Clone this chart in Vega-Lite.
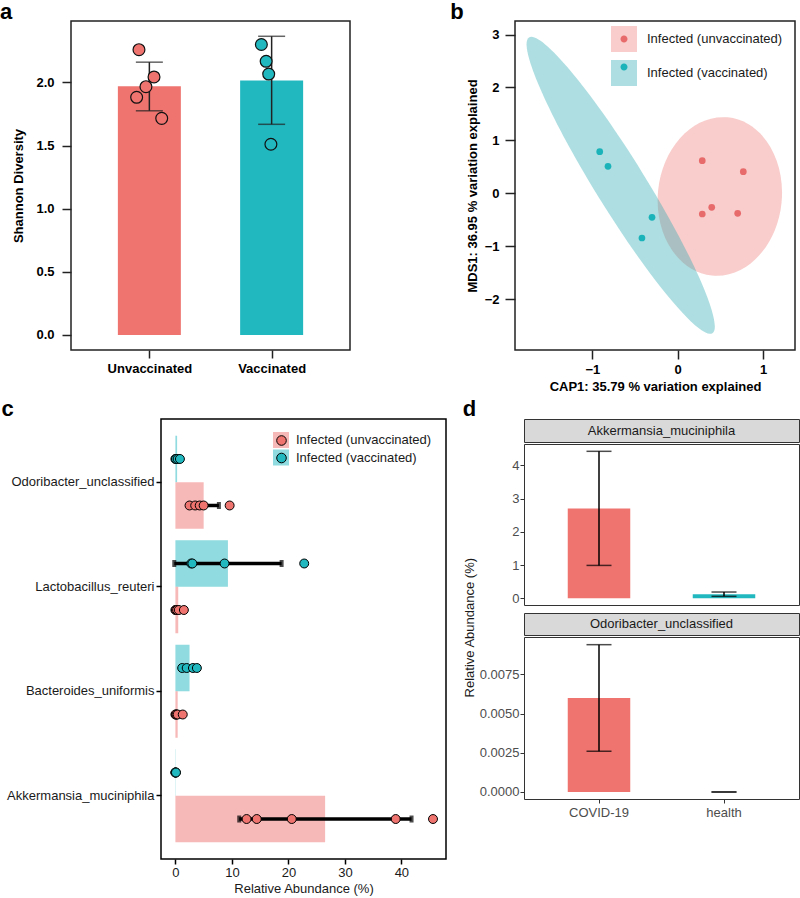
{
 "$schema": "https://vega.github.io/schema/vega-lite/v6.json",
 "padding": {"left": -3, "top": 0, "right": 0, "bottom": 0},
 "background": "white",
 "config": {
   "font": "Liberation Sans",
   "view": {"stroke": null},
   "axis": {"grid": false, "domain": false},
   "title": {"fontSize": 22, "fontWeight": "bold", "anchor": "start", "frame": "bounds", "color": "black", "baseline": "alphabetic"}
 },
 "datasets": {
   "a_bars": [
     {"group": "Unvaccinated", "x": 1, "mean": 1.97, "lo": 1.775, "hi": 2.16},
     {"group": "Vaccinated", "x": 2, "mean": 2.015, "lo": 1.668, "hi": 2.365}
   ],
   "a_pts": [
     {"group": "Unvaccinated", "x": 0.915, "value": 2.259},
     {"group": "Unvaccinated", "x": 1.038, "value": 2.043},
     {"group": "Unvaccinated", "x": 0.972, "value": 1.966},
     {"group": "Unvaccinated", "x": 0.896, "value": 1.882},
     {"group": "Unvaccinated", "x": 1.101, "value": 1.715},
     {"group": "Vaccinated", "x": 1.916, "value": 2.30},
     {"group": "Vaccinated", "x": 1.955, "value": 2.167},
     {"group": "Vaccinated", "x": 1.976, "value": 2.066},
     {"group": "Vaccinated", "x": 1.994, "value": 1.51}
   ],
   "b_ell": [
     {"group": "Infected (unvaccinated)", "x": 0.494, "y": -0.06},
     {"group": "Infected (vaccinated)", "x": -0.668, "y": 0.151}
   ],
   "b_pts": [
     {"group": "Infected (unvaccinated)", "x": 0.288, "y": 0.616},
     {"group": "Infected (unvaccinated)", "x": 0.769, "y": 0.408},
     {"group": "Infected (unvaccinated)", "x": 0.399, "y": -0.265},
     {"group": "Infected (unvaccinated)", "x": 0.288, "y": -0.391},
     {"group": "Infected (unvaccinated)", "x": 0.703, "y": -0.378},
     {"group": "Infected (vaccinated)", "x": -0.914, "y": 0.786},
     {"group": "Infected (vaccinated)", "x": -0.817, "y": 0.51},
     {"group": "Infected (vaccinated)", "x": -0.301, "y": -0.454},
     {"group": "Infected (vaccinated)", "x": -0.419, "y": -0.845}
   ],
   "c_sum": [
     {"taxon": "Odoribacter_unclassified", "group": "Infected (vaccinated)", "mean": 0.3, "lo": 0.05, "hi": 0.55},
     {"taxon": "Odoribacter_unclassified", "group": "Infected (unvaccinated)", "mean": 5.0, "lo": 2.3, "hi": 7.7},
     {"taxon": "Lactobacillus_reuteri", "group": "Infected (vaccinated)", "mean": 9.3, "lo": -0.2, "hi": 18.8},
     {"taxon": "Lactobacillus_reuteri", "group": "Infected (unvaccinated)", "mean": 0.5, "lo": 0.1, "hi": 0.9},
     {"taxon": "Bacteroides_uniformis", "group": "Infected (vaccinated)", "mean": 2.5, "lo": 1.8, "hi": 3.2},
     {"taxon": "Bacteroides_uniformis", "group": "Infected (unvaccinated)", "mean": 0.4, "lo": 0.1, "hi": 0.7},
     {"taxon": "Akkermansia_muciniphila", "group": "Infected (vaccinated)", "mean": 0.05, "lo": 0.0, "hi": 0.1},
     {"taxon": "Akkermansia_muciniphila", "group": "Infected (unvaccinated)", "mean": 26.5, "lo": 11.3, "hi": 41.8}
   ],
   "c_pts": [
     {"taxon": "Odoribacter_unclassified", "group": "Infected (vaccinated)", "value": 0.0},
     {"taxon": "Odoribacter_unclassified", "group": "Infected (vaccinated)", "value": 0.1},
     {"taxon": "Odoribacter_unclassified", "group": "Infected (vaccinated)", "value": 0.4},
     {"taxon": "Odoribacter_unclassified", "group": "Infected (vaccinated)", "value": 0.8},
     {"taxon": "Odoribacter_unclassified", "group": "Infected (unvaccinated)", "value": 2.5},
     {"taxon": "Odoribacter_unclassified", "group": "Infected (unvaccinated)", "value": 3.5},
     {"taxon": "Odoribacter_unclassified", "group": "Infected (unvaccinated)", "value": 4.3},
     {"taxon": "Odoribacter_unclassified", "group": "Infected (unvaccinated)", "value": 5.0},
     {"taxon": "Odoribacter_unclassified", "group": "Infected (unvaccinated)", "value": 9.6},
     {"taxon": "Lactobacillus_reuteri", "group": "Infected (vaccinated)", "value": 2.8},
     {"taxon": "Lactobacillus_reuteri", "group": "Infected (vaccinated)", "value": 3.0},
     {"taxon": "Lactobacillus_reuteri", "group": "Infected (vaccinated)", "value": 8.7},
     {"taxon": "Lactobacillus_reuteri", "group": "Infected (vaccinated)", "value": 22.8},
     {"taxon": "Lactobacillus_reuteri", "group": "Infected (unvaccinated)", "value": 0.0},
     {"taxon": "Lactobacillus_reuteri", "group": "Infected (unvaccinated)", "value": 0.1},
     {"taxon": "Lactobacillus_reuteri", "group": "Infected (unvaccinated)", "value": 0.3},
     {"taxon": "Lactobacillus_reuteri", "group": "Infected (unvaccinated)", "value": 0.6},
     {"taxon": "Lactobacillus_reuteri", "group": "Infected (unvaccinated)", "value": 1.5},
     {"taxon": "Bacteroides_uniformis", "group": "Infected (vaccinated)", "value": 1.2},
     {"taxon": "Bacteroides_uniformis", "group": "Infected (vaccinated)", "value": 2.0},
     {"taxon": "Bacteroides_uniformis", "group": "Infected (vaccinated)", "value": 3.1},
     {"taxon": "Bacteroides_uniformis", "group": "Infected (vaccinated)", "value": 3.8},
     {"taxon": "Bacteroides_uniformis", "group": "Infected (unvaccinated)", "value": 0.0},
     {"taxon": "Bacteroides_uniformis", "group": "Infected (unvaccinated)", "value": 0.1},
     {"taxon": "Bacteroides_uniformis", "group": "Infected (unvaccinated)", "value": 0.2},
     {"taxon": "Bacteroides_uniformis", "group": "Infected (unvaccinated)", "value": 0.4},
     {"taxon": "Bacteroides_uniformis", "group": "Infected (unvaccinated)", "value": 1.3},
     {"taxon": "Akkermansia_muciniphila", "group": "Infected (vaccinated)", "value": 0.0},
     {"taxon": "Akkermansia_muciniphila", "group": "Infected (vaccinated)", "value": 0.0},
     {"taxon": "Akkermansia_muciniphila", "group": "Infected (vaccinated)", "value": 0.05},
     {"taxon": "Akkermansia_muciniphila", "group": "Infected (vaccinated)", "value": 0.1},
     {"taxon": "Akkermansia_muciniphila", "group": "Infected (unvaccinated)", "value": 12.6},
     {"taxon": "Akkermansia_muciniphila", "group": "Infected (unvaccinated)", "value": 14.4},
     {"taxon": "Akkermansia_muciniphila", "group": "Infected (unvaccinated)", "value": 20.6},
     {"taxon": "Akkermansia_muciniphila", "group": "Infected (unvaccinated)", "value": 39.0},
     {"taxon": "Akkermansia_muciniphila", "group": "Infected (unvaccinated)", "value": 45.6}
   ],
   "d1": [
     {"group": "COVID-19", "mean": 2.70, "lo": 0.99, "hi": 4.42},
     {"group": "health", "mean": 0.12, "lo": 0.06, "hi": 0.19}
   ],
   "d2": [
     {"group": "COVID-19", "mean": 0.0060, "lo": 0.0026, "hi": 0.0094},
     {"group": "health", "mean": 0.0, "lo": 0.0, "hi": 0.0}
   ]
 },
 "spacing": 3,
 "vconcat": [
  {
   "spacing": 1,
   "hconcat": [
    {"width": 1, "height": 1, "data": {"values": [{"v": 0}]}, "mark": {"type": "text", "text": ""}},
    {
     "spacing": 98,
     "hconcat": [
      {
       "title": {"text": "a", "dx": -13, "offset": -3},
       "width": 279, "height": 329,
       "view": {"stroke": "#222222", "strokeWidth": 1.5},
       "encoding": {
         "x": {"field": "x", "type": "quantitative", "scale": {"domain": [0.4, 2.6], "nice": false, "zero": false},
               "axis": {"values": [1, 2], "labelExpr": "datum.value == 1 ? 'Unvaccinated' : 'Vaccinated'", "title": null, "labelFontSize": 13, "labelFontWeight": "bold", "labelColor": "black", "tickColor": "#222222", "tickSize": 8, "tickWidth": 1.5, "labelPadding": 4}}
       },
       "layer": [
         {"data": {"name": "a_bars"}, "mark": {"type": "bar", "size": 63},
          "encoding": {
            "y": {"field": "mean", "type": "quantitative", "scale": {"domain": [-0.119, 2.486], "nice": false, "zero": false},
                  "axis": {"values": [0, 0.5, 1, 1.5, 2], "format": ".1f", "title": "Shannon Diversity", "titleFontSize": 13, "titleFontWeight": "bold", "titleColor": "black", "titlePadding": 10, "labelFontSize": 13, "labelFontWeight": "bold", "labelColor": "black", "tickColor": "#222222", "tickSize": 9, "tickWidth": 1.5, "labelPadding": 8}},
            "y2": {"datum": 0},
            "color": {"field": "group", "type": "nominal", "scale": {"domain": ["Unvaccinated", "Vaccinated"], "range": ["#EF7470", "#21B8C0"]}, "legend": null}
          }},
         {"data": {"name": "a_bars"}, "mark": {"type": "rule", "color": "#222222", "strokeWidth": 1.5},
          "encoding": {
            "y": {"field": "lo", "type": "quantitative", "scale": {"domain": [-0.119, 2.486], "nice": false, "zero": false}},
            "y2": {"field": "hi"}
          }},
         {"data": {"name": "a_bars"}, "transform": [{"fold": ["lo", "hi"]}],
          "mark": {"type": "tick", "orient": "horizontal", "size": 27, "thickness": 1.5, "color": "#222222"},
          "encoding": {
            "y": {"field": "value", "type": "quantitative", "scale": {"domain": [-0.119, 2.486], "nice": false, "zero": false}}
          }},
         {"data": {"name": "a_pts"}, "mark": {"type": "circle", "size": 140, "stroke": "#111111", "strokeWidth": 1.2, "opacity": 1},
          "encoding": {
            "y": {"field": "value", "type": "quantitative", "scale": {"domain": [-0.119, 2.486], "nice": false, "zero": false}},
            "color": {"field": "group", "type": "nominal", "scale": {"domain": ["Unvaccinated", "Vaccinated"], "range": ["#EF7470", "#21B8C0"]}, "legend": null}
          }}
       ]
      },
      {
       "title": {"text": "b", "dx": -16, "offset": -3},
       "width": 280, "height": 329,
       "view": {"stroke": "#222222", "strokeWidth": 1.5},
       "encoding": {
         "x": {"field": "x", "type": "quantitative", "scale": {"domain": [-1.907, 1.375], "nice": false, "zero": false},
               "axis": {"values": [-1, 0, 1], "labelExpr": "replace(datum.label, '-', '−')", "title": "CAP1:  35.79 % variation explained", "titleFontSize": 13, "titleFontWeight": "bold", "titleColor": "black", "titlePadding": 4, "labelFontSize": 13, "labelFontWeight": "bold", "labelColor": "black", "tickColor": "#222222", "tickSize": 9, "tickWidth": 1.5, "labelPadding": 4}},
         "y": {"field": "y", "type": "quantitative", "scale": {"domain": [-2.962, 3.257], "nice": false, "zero": false},
               "axis": {"values": [-2, -1, 0, 1, 2, 3], "labelExpr": "replace(datum.label, '-', '−')", "title": "MDS1:  36.95 % variation explained", "titleFontSize": 13, "titleFontWeight": "bold", "titleColor": "black", "titlePadding": 5, "labelFontSize": 13, "labelFontWeight": "bold", "labelColor": "black", "tickColor": "#222222", "tickSize": 10, "tickWidth": 1.5, "labelPadding": 6}}
       },
       "layer": [
         {"layer": [
           {"data": {"name": "b_ell"}, "transform": [{"filter": "datum.group == 'Infected (unvaccinated)'"}],
            "mark": {"type": "point", "shape": "M -1 0 A 1 0.78 0 1 1 1 0 A 1 0.78 0 1 1 -1 0 Z", "size": 25281, "angle": 95.7, "filled": true, "opacity": 0.38, "strokeWidth": 0},
            "encoding": {"fill": {"field": "group", "type": "nominal", "scale": {"domain": ["Infected (unvaccinated)", "Infected (vaccinated)"], "range": ["#EC7B76", "#2AA9B0"]},
               "legend": {"orient": "none", "legendX": 96, "legendY": 5, "title": null, "symbolType": "square", "symbolSize": 676, "symbolOpacity": 0.38, "symbolStrokeWidth": 0, "labelFontSize": 13, "labelColor": "#1a1a1a", "labelOffset": 10, "rowPadding": 8, "labelLimit": 300}}}},
           {"data": {"name": "b_ell"}, "transform": [{"filter": "datum.group == 'Infected (vaccinated)'"}],
            "mark": {"type": "point", "shape": "M -1 0 A 1 0.1437 0 1 1 1 0 A 1 0.1437 0 1 1 -1 0 Z", "size": 121104, "angle": 58.2, "filled": true, "opacity": 0.38, "strokeWidth": 0},
            "encoding": {"fill": {"field": "group", "type": "nominal", "scale": {"domain": ["Infected (unvaccinated)", "Infected (vaccinated)"], "range": ["#EC7B76", "#2AA9B0"]},
               "legend": {"orient": "none", "legendX": 96, "legendY": 5, "title": null, "symbolType": "square", "symbolSize": 676, "symbolOpacity": 0.38, "symbolStrokeWidth": 0, "labelFontSize": 13, "labelColor": "#1a1a1a", "labelOffset": 10, "rowPadding": 8, "labelLimit": 300}}}}
         ]},
         {"data": {"name": "b_pts"}, "mark": {"type": "circle", "size": 45, "opacity": 1},
          "encoding": {"fill": {"field": "group", "type": "nominal", "scale": {"domain": ["Infected (unvaccinated)", "Infected (vaccinated)"], "range": ["#E86B6C", "#1AB3BA"]},
             "legend": {"orient": "none", "legendX": 96, "legendY": 5, "title": null, "symbolType": "M -0.27 0 A 0.27 0.27 0 1 1 0.27 0 A 0.27 0.27 0 1 1 -0.27 0 Z", "symbolSize": 676, "symbolOpacity": 1, "symbolStrokeWidth": 0, "labelExpr": "''", "labelFontSize": 13, "labelOffset": 10, "rowPadding": 8}}}}
       ],
       "resolve": {"scale": {"fill": "independent"}, "legend": {"fill": "independent"}}
      }
     ]
    }
   ]
  },
  {
   "spacing": 2,
   "hconcat": [
    {"width": 1, "height": 1, "data": {"values": [{"v": 0}]}, "mark": {"type": "text", "text": ""}},
    {
     "spacing": 15,
     "hconcat": [
      {
       "title": {"text": "c", "dx": -5, "offset": -2},
       "width": 285, "height": 440,
       "view": {"stroke": "black", "strokeWidth": 1.5},
       "encoding": {
         "y": {"field": "taxon", "type": "nominal", "sort": ["Odoribacter_unclassified", "Lactobacillus_reuteri", "Bacteroides_uniformis", "Akkermansia_muciniphila"],
               "scale": {"domain": ["Odoribacter_unclassified", "Lactobacillus_reuteri", "Bacteroides_uniformis", "Akkermansia_muciniphila"], "paddingInner": 0.11, "paddingOuter": 0.16},
               "axis": {"title": null, "labelFontSize": 13, "labelColor": "#1a1a1a", "tickColor": "black", "tickSize": 5, "tickWidth": 1.5, "labelPadding": 2, "labelLimit": 300}},
         "yOffset": {"field": "group", "type": "nominal", "scale": {"domain": ["Infected (vaccinated)", "Infected (unvaccinated)"], "paddingInner": 0, "paddingOuter": 0}}
       },
       "layer": [
         {"data": {"name": "c_sum"}, "mark": {"type": "bar", "opacity": 0.5},
          "encoding": {
            "x": {"field": "mean", "type": "quantitative", "scale": {"domain": [-2.55, 47.9], "nice": false, "zero": false},
                  "axis": {"values": [0, 10, 20, 30, 40], "title": "Relative Abundance (%)", "titleFontSize": 13, "titleFontWeight": "normal", "titleColor": "#1a1a1a", "titlePadding": 3, "labelFontSize": 13, "labelColor": "#1a1a1a", "tickColor": "black", "tickSize": 5, "tickWidth": 1.5, "labelPadding": 2}},
            "x2": {"datum": 0},
            "fill": {"field": "group", "type": "nominal", "scale": {"domain": ["Infected (unvaccinated)", "Infected (vaccinated)"], "range": ["#EF7470", "#21B8C0"]},
               "legend": {"orient": "none", "legendX": 112, "legendY": 13, "title": null, "symbolType": "square", "symbolSize": 256, "symbolOpacity": 0.5, "symbolStrokeWidth": 0, "labelFontSize": 13, "labelColor": "#1a1a1a", "labelOffset": 7, "rowPadding": 1.5, "labelLimit": 300}}
          }},
         {"data": {"name": "c_sum"}, "mark": {"type": "rule", "color": "black", "strokeWidth": 3.5},
          "encoding": {
            "x": {"field": "lo", "type": "quantitative", "scale": {"domain": [-2.55, 47.9], "nice": false, "zero": false}},
            "x2": {"field": "hi"}
          }},
         {"data": {"name": "c_sum"}, "transform": [{"fold": ["lo", "hi"]}],
          "mark": {"type": "tick", "orient": "vertical", "size": 7, "thickness": 4, "color": "black"},
          "encoding": {
            "x": {"field": "value", "type": "quantitative", "scale": {"domain": [-2.55, 47.9], "nice": false, "zero": false}}
          }},
         {"data": {"name": "c_pts"}, "mark": {"type": "circle", "size": 80, "stroke": "black", "strokeWidth": 1, "opacity": 1},
          "encoding": {
            "x": {"field": "value", "type": "quantitative", "scale": {"domain": [-2.55, 47.9], "nice": false, "zero": false}},
            "fill": {"field": "group", "type": "nominal", "scale": {"domain": ["Infected (unvaccinated)", "Infected (vaccinated)"], "range": ["#EF7470", "#21B8C0"]},
               "legend": {"orient": "none", "legendX": 112, "legendY": 13, "title": null, "symbolType": "M -0.6 0 A 0.6 0.6 0 1 1 0.6 0 A 0.6 0.6 0 1 1 -0.6 0 Z", "symbolSize": 256, "symbolOpacity": 1, "symbolStrokeColor": "black", "symbolStrokeWidth": 1, "labelExpr": "''", "labelFontSize": 13, "labelOffset": 7, "rowPadding": 1.5}}
          }}
       ],
       "resolve": {"scale": {"fill": "independent"}, "legend": {"fill": "independent"}}
      },
      {
       "title": {"text": "d", "dx": -1, "offset": -2},
       "vconcat": [
        {
         "title": {"text": "Relative Abundance (%)", "orient": "left", "anchor": "middle", "frame": "bounds", "fontSize": 13, "fontWeight": "normal", "color": "#1a1a1a", "baseline": "bottom", "offset": -11, "dx": -8.7},
         "spacing": 0,
         "vconcat": [
           {"width": 275, "height": 23, "view": {"fill": "#d9d9d9", "stroke": "#333333", "strokeWidth": 1},
            "data": {"values": [{"label": "Akkermansia_muciniphila"}]},
            "mark": {"type": "text", "fontSize": 13, "color": "#1a1a1a"},
            "encoding": {"text": {"field": "label", "type": "nominal"}}},
           {"width": 275, "height": 161, "view": {"stroke": "#333333", "strokeWidth": 1},
            "data": {"name": "d1"},
            "encoding": {"x": {"field": "group", "type": "nominal", "scale": {"domain": ["COVID-19", "health"], "paddingInner": 0.5, "paddingOuter": 0.35},
                 "axis": {"labels": false, "ticks": true, "tickSize": 6, "tickOpacity": 0, "title": null}}},
            "layer": [
              {"mark": {"type": "bar"},
               "encoding": {
                 "y": {"field": "mean", "type": "quantitative", "scale": {"domain": [-0.2, 4.64], "nice": false, "zero": false},
                       "axis": {"values": [0, 1, 2, 3, 4], "title": null, "labelFontSize": 13, "labelColor": "#4d4d4d", "tickColor": "#333333", "tickSize": 4, "tickWidth": 1, "labelPadding": 1}},
                 "y2": {"datum": 0},
                 "color": {"field": "group", "type": "nominal", "scale": {"domain": ["COVID-19", "health"], "range": ["#EF7470", "#21B8C0"]}, "legend": null}
               }},
              {"mark": {"type": "rule", "color": "black", "strokeWidth": 1.5},
               "encoding": {
                 "y": {"field": "lo", "type": "quantitative", "scale": {"domain": [-0.2, 4.64], "nice": false, "zero": false}},
                 "y2": {"field": "hi"}
               }},
              {"transform": [{"fold": ["lo", "hi"]}],
               "mark": {"type": "tick", "orient": "horizontal", "size": 25, "thickness": 1.5, "color": "black"},
               "encoding": {
                 "y": {"field": "value", "type": "quantitative", "scale": {"domain": [-0.2, 4.64], "nice": false, "zero": false}}
               }}
            ]},
           {"width": 275, "height": 22, "view": {"fill": "#d9d9d9", "stroke": "#333333", "strokeWidth": 1},
            "data": {"values": [{"label": "Odoribacter_unclassified"}]},
            "mark": {"type": "text", "fontSize": 13, "color": "#1a1a1a"},
            "encoding": {"text": {"field": "label", "type": "nominal"}}},
           {"width": 275, "height": 162, "view": {"stroke": "#333333", "strokeWidth": 1},
            "data": {"name": "d2"},
            "encoding": {"x": {"field": "group", "type": "nominal", "scale": {"domain": ["COVID-19", "health"], "paddingInner": 0.5, "paddingOuter": 0.35},
                 "axis": {"title": null, "labelAngle": 0, "labelFontSize": 13, "labelColor": "#4d4d4d", "tickColor": "#333333", "tickSize": 4, "tickWidth": 1, "labelPadding": 3}}},
            "layer": [
              {"mark": {"type": "bar"},
               "encoding": {
                 "y": {"field": "mean", "type": "quantitative", "scale": {"domain": [-0.000447, 0.00989], "nice": false, "zero": false},
                       "axis": {"values": [0, 0.0025, 0.005, 0.0075], "format": ".4f", "title": null, "labelFontSize": 13, "labelColor": "#4d4d4d", "tickColor": "#333333", "tickSize": 4, "tickWidth": 1, "labelPadding": 1}},
                 "y2": {"datum": 0},
                 "color": {"field": "group", "type": "nominal", "scale": {"domain": ["COVID-19", "health"], "range": ["#EF7470", "#21B8C0"]}, "legend": null}
               }},
              {"mark": {"type": "rule", "color": "black", "strokeWidth": 1.5},
               "encoding": {
                 "y": {"field": "lo", "type": "quantitative", "scale": {"domain": [-0.000447, 0.00989], "nice": false, "zero": false}},
                 "y2": {"field": "hi"}
               }},
              {"transform": [{"fold": ["lo", "hi"]}],
               "mark": {"type": "tick", "orient": "horizontal", "size": 25, "thickness": 1.5, "color": "black"},
               "encoding": {
                 "y": {"field": "value", "type": "quantitative", "scale": {"domain": [-0.000447, 0.00989], "nice": false, "zero": false}}
               }}
            ]}
         ]
        }
       ]
      }
     ]
    }
   ]
  }
 ]
}
